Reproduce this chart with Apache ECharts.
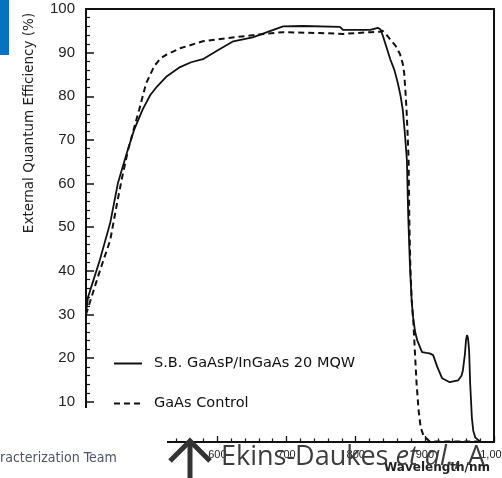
<!DOCTYPE html>
<html><head><meta charset="utf-8">
<script src="https://cdn.jsdelivr.net/npm/echarts@6/dist/echarts.min.js"></script>
<style>html,body{margin:0;padding:0;background:#fff}#c{width:502px;height:478px}</style>
</head><body><div id="c"></div>
<script>
const seriesNames = ['S.B. GaAsP/InGaAs 20 MQW', 'GaAs Control'];

const mqwWavelength = [410,413,421,430,445,456,469,480,492,503,513,527,546,562,579,600,623,651,670,695,724,777,782,821,832,836,839,845,850,856,861,865,868,871,874,876,878.5,881,883,886,889,896,902,907,912,918,925,936,948,953,955,958,959.5,961,962.5,964,965.5,968,970,973,980,994];
const mqwEQE = [30.5,34,38,42.5,51,60,67,72.5,77,80.3,82.3,84.6,86.7,87.8,88.5,90.5,92.6,93.5,94.6,96,96.1,95.9,95.2,95.2,95.7,95.3,94,91,88.5,86,83,80,77,71.7,65.5,52.4,41,33,29.4,26,24.1,21.4,21.2,21.1,20.7,18,15.4,14.5,14.9,16,17.2,21,24.1,25.3,24.5,21.8,14.3,6.4,3.4,1.8,0.9,0.7];

const controlWavelength = [410,420,430,445,455,463,471,480,487,497,509,518,527,546,579,613,651,695,748,782,821,835,839,845,850,858,864,868,870,872,873.5,875,876.5,877.5,879,881,883.5,885.5,888,891,894,898,907,980];
const controlEQE = [30,35,40,47,55.6,62,67.8,73,77,83,87,88.7,89.6,91,92.6,93.3,94,94.7,94.5,94.3,94.7,94.8,95,94,93,91.5,89.7,87.5,85.5,81,77,71.7,65.5,52,41,33.3,28,21.8,14.3,8,4.1,2.3,0.9,0.9];

// plotted window of the figure
const xMin = 410, xMax = 1000;
const yMin = 0.8, yMax = 100;
// tick scales (tick labels 600..1000 and 10..100)
const xTickMin = 400, xTickStep = 100;
const yTickMin = 0, yTickStep = 10;

function zip(a, b) { return a.map((v, i) => [v, b[i]]); }

const chart = echarts.init(document.getElementById('c'), null, {renderer: 'canvas'});
const ink = '#111';

// geometry of the plot frame
const L = 86, R = 494, T = 9, B = 442, W = 502, H = 478;
const pxPerNm = (R - L) / (xMax - xMin);
const pxPerPct = (B - T) / (yMax - yMin);
const xTickLeft = L - (xMin - xTickMin) * pxPerNm;
const yTickBottom = B + (yMin - yTickMin) * pxPerPct;

const hiddenAxis = {axisLine: {show: false}, axisTick: {show: false}, axisLabel: {show: false}, splitLine: {show: false}};
const gridBase = {containLabel: false, outerBoundsMode: 'none'};

chart.setOption({
  animation: false,
  grid: [
    Object.assign({left: L, right: W - R, top: T, bottom: H - B, show: true, borderColor: ink, borderWidth: 2, backgroundColor: 'transparent'}, gridBase),
    Object.assign({left: xTickLeft, right: W - R, top: T, bottom: H - B}, gridBase),
    Object.assign({left: L, right: W - R, top: T, bottom: H - yTickBottom}, gridBase),
    Object.assign({left: 0, right: W - L, top: T, bottom: H - yTickBottom}, gridBase)
  ],
  legend: {
    left: 113, top: 356, padding: 0, orient: 'vertical', itemWidth: 28, itemHeight: 14, itemGap: 25,
    data: seriesNames,
    itemStyle: {opacity: 0},
    textStyle: {fontSize: 14.5, color: ink, fontFamily: 'DejaVu Sans', padding: [0,0,0,7]}
  },
  xAxis: [
    Object.assign({type: 'value', gridIndex: 0, min: xMin, max: xMax}, hiddenAxis),
    {type: 'value', gridIndex: 1, min: xTickMin, max: xMax, interval: xTickStep, position: 'bottom',
     axisLine: {show: false, onZero: false},
     axisTick: {show: true, inside: true, length: 6, lineStyle: {color: ink, width: 1.3}},
     minorTick: {show: true, splitNumber: 5, length: 3.5, lineStyle: {color: ink, width: 1.2}},
     axisLabel: {fontSize: 11, color: '#222', margin: 7, fontFamily: 'Liberation Sans'},
     splitLine: {show: false}, minorSplitLine: {show: false}},
    Object.assign({type: 'value', gridIndex: 2, min: xMin, max: xMax}, hiddenAxis),
    Object.assign({type: 'value', gridIndex: 3, min: xMin, max: xMax}, hiddenAxis)
  ],
  yAxis: [
    Object.assign({type: 'value', gridIndex: 0, min: yMin, max: yMax}, hiddenAxis),
    Object.assign({type: 'value', gridIndex: 1, min: yMin, max: yMax}, hiddenAxis),
    // tick labels on the left of the frame
    {type: 'value', gridIndex: 2, min: yTickMin, max: yMax, interval: yTickStep, position: 'left',
     axisLine: {show: false, onZero: false}, axisTick: {show: false}, minorTick: {show: false},
     axisLabel: {fontSize: 15, color: '#222', margin: 11, fontFamily: 'Liberation Sans'},
     splitLine: {show: false}, minorSplitLine: {show: false}},
    // tick marks pointing into the plot (right-hand axis of a grid ending at the frame's left edge)
    {type: 'value', gridIndex: 3, min: yTickMin, max: yMax, interval: yTickStep, position: 'right',
     axisLine: {show: false, onZero: false},
     axisTick: {show: true, inside: false, length: 8, lineStyle: {color: ink, width: 1.5}},
     minorTick: {show: true, splitNumber: 5, length: 4, lineStyle: {color: ink, width: 1.2}},
     axisLabel: {show: false}, splitLine: {show: false}, minorSplitLine: {show: false}}
  ],
  series: [
    {name: seriesNames[0], type: 'line', xAxisIndex: 0, yAxisIndex: 0, symbol: 'none', showSymbol: false,
     data: zip(mqwWavelength, mqwEQE), lineStyle: {color: ink, width: 1.8}, itemStyle: {color: ink}},
    {name: seriesNames[1], type: 'line', xAxisIndex: 0, yAxisIndex: 0, symbol: 'none', showSymbol: false,
     data: zip(controlWavelength, controlEQE), lineStyle: {color: ink, width: 2, type: [6, 4]}, itemStyle: {color: ink}}
  ],
  graphic: [
    {type: 'rect', z: 100, shape: {x: 0, y: 408, width: 167, height: 70}, style: {fill: '#fff'}},
    {type: 'rect', z: 100, shape: {x: 0, y: 0, width: 9, height: 55}, style: {fill: '#0672c2'}},
    {type: 'text', z: 101, x: 29, y: 123, rotation: Math.PI / 2,
     style: {text: 'External Quantum Efficiency (%)', fontSize: 13.5, fontFamily: 'DejaVu Sans', fill: '#222', align: 'center', verticalAlign: 'middle'}},
    {type: 'text', z: 101, x: 0, y: 458,
     style: {text: 'racterization Team', fontSize: 14, fontFamily: 'DejaVu Sans Condensed', fill: '#4c5568', align: 'left', verticalAlign: 'middle'}},
    {type: 'text', z: 101, x: 437, y: 468,
     style: {text: 'Wavelength/nm', fontSize: 12, fontWeight: 'bold', fontFamily: 'DejaVu Sans', fill: '#222', align: 'center', verticalAlign: 'middle'}},
    {type: 'text', z: 102, x: 221, y: 457,
     style: {text: '{n|Ekins-Daukes }{i|et al.}{n|, A}', verticalAlign: 'middle', align: 'left',
       rich: {n: {fontFamily: 'Open Sans', fontSize: 27, fill: '#3d3d3d', color: '#3d3d3d'},
              i: {fontFamily: 'Open Sans', fontSize: 27, fontStyle: 'italic', fill: '#3d3d3d', color: '#3d3d3d'}}}},
    {type: 'polyline', z: 102, shape: {points: [[190, 444], [190, 478]]}, style: {stroke: '#333', lineWidth: 5, fill: null}},
    {type: 'polyline', z: 102, shape: {points: [[170, 461], [190, 441], [210, 461]]}, style: {stroke: '#333', lineWidth: 5, fill: null, lineJoin: 'miter'}}
  ]
});
</script>
</body></html>
